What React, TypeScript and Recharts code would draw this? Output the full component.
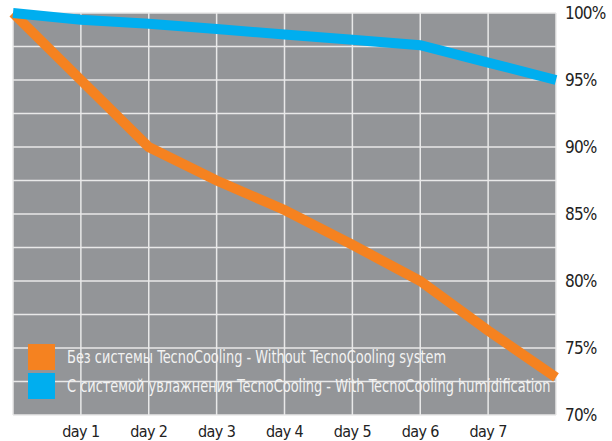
import { CartesianGrid, Line, LineChart, XAxis, YAxis } from "recharts"

const days = [0, 1, 2, 3, 4, 5, 6, 7, 8]
const withoutSystem = [100, 95, 90, 87.5, 85.3, 82.7, 80, 76.3, 72.8]
const withSystem = [100, 99.5, 99.2, 98.8, 98.4, 98, 97.6, 96.3, 95]
const dayTicks = [1, 2, 3, 4, 5, 6, 7]
const percentTicks = [70, 72.5, 75, 77.5, 80, 82.5, 85, 87.5, 90, 92.5, 95, 97.5, 100]

const series = [
  { key: "without", name: "Без системы  TecnoCooling - Without TecnoCooling system", color: "#f58220" },
  { key: "with", name: "С системой увлажнения TecnoCooling - With TecnoCooling humidification", color: "#00aeef" },
]

const data = days.map((d, i) => ({
  day: d,
  without: withoutSystem[i],
  with: withSystem[i],
}))

const font = '"DejaVu Sans", sans-serif'

export default function App() {
  return (
    <div style={{ position: "absolute", left: 0, top: 0, width: 612, height: 441, background: "#fff" }}>
      <LineChart width={612} height={441} data={data} margin={{ top: 13, right: 0, left: 13, bottom: 0 }}>
        <CartesianGrid fill="#939598" stroke="#e9e9e9" strokeWidth={1.5} />
        <XAxis
          dataKey="day"
          type="number"
          domain={[0, 8]}
          ticks={dayTicks}
          tickFormatter={(v) => `day ${v}`}
          axisLine={false}
          tickLine={false}
          height={26}
          tickMargin={5}
          tick={{ fill: "#222", fontSize: 16, fontFamily: font, letterSpacing: -0.6, style: { fontStretch: "condensed" } }}
        />
        <YAxis
          orientation="right"
          domain={[70, 100]}
          ticks={percentTicks}
          tickFormatter={(v) => (v % 5 === 0 ? `${v}%` : "")}
          axisLine={false}
          tickLine={false}
          width={56}
          tickMargin={3}
          tick={{ fill: "#222", fontSize: 17, fontFamily: font, letterSpacing: -0.8, textAnchor: "start", style: { fontStretch: "condensed" } }}
        />
        {series.map((s) => (
          <Line
            key={s.key}
            name={s.name}
            dataKey={s.key}
            stroke={s.color}
            strokeWidth={10}
            dot={false}
            isAnimationActive={false}
          />
        ))}
      </LineChart>
      <div style={{ position: "absolute", left: 28, top: 342, fontFamily: font, fontStretch: "condensed" }}>
        {series.map((s) => (
          <div key={s.key} style={{ display: "flex", alignItems: "center", height: 29 }}>
            <div style={{ width: 27, height: 26, background: s.color, marginRight: 12, flexShrink: 0 }} />
            <span
              style={{
                color: "#f2f2f2",
                fontSize: 18,
                whiteSpace: "nowrap",
                display: "inline-block",
                transform: "scaleX(0.8)",
                transformOrigin: "left center",
              }}
            >
              {s.name}
            </span>
          </div>
        ))}
      </div>
    </div>
  )
}
